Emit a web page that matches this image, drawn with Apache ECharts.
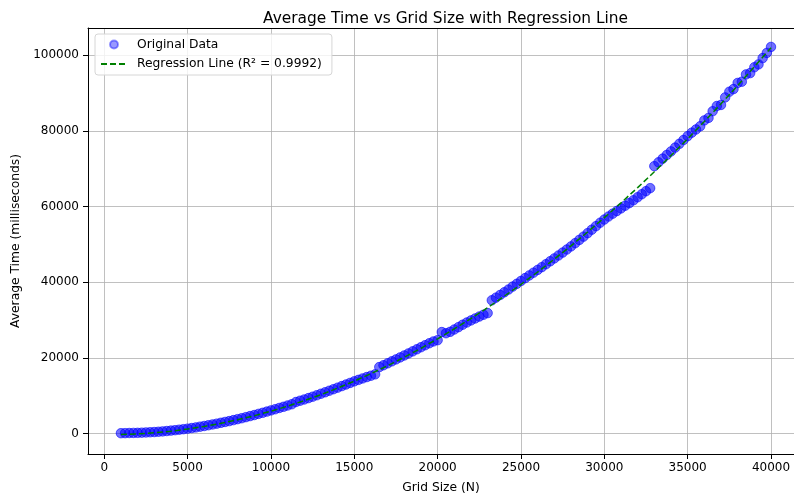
<!DOCTYPE html>
<html>
<head>
<meta charset="utf-8">
<script src="https://cdn.jsdelivr.net/npm/echarts@6/dist/echarts.min.js"></script>
<style>
html,body{margin:0;padding:0;background:#fff;}
#c{width:794px;height:496px;}
</style>
</head>
<body>
<div id="c"></div>
<script>
const gridSizes = [
1000,1250,1500,1750,2000,2250,2500,2750,3000,3250,3500,3750,4000,4250,4500,4750,
5000,5250,5500,5750,6000,6250,6500,6750,7000,7250,7500,7750,8000,8250,8500,8750,
9000,9250,9500,9750,10000,10250,10500,10750,11000,11250,11500,11750,12000,12250,12500,12750,
13000,13250,13500,13750,14000,14250,14500,14750,15000,15250,15500,15750,16000,16250,16500,16750,
17000,17250,17500,17750,18000,18250,18500,18750,19000,19250,19500,19750,20000,20250,20500,20750,
21000,21250,21500,21750,22000,22250,22500,22750,23000,23250,23500,23750,24000,24250,24500,24750,
25000,25250,25500,25750,26000,26250,26500,26750,27000,27250,27500,27750,28000,28250,28500,28750,
29000,29250,29500,29750,30000,30250,30500,30750,31000,31250,31500,31750,32000,32250,32500,32750,
33000,33250,33500,33750,34000,34250,34500,34750,35000,35250,35500,35750,36000,36250,36500,36750,
37000,37250,37500,37750,38000,38250,38500,38750,39000,39250,39500,39750,40000
];
const avgTimes = [
50,70,100,125,150,193,243,302,358,433,526,627,736,853,978,1112,
1252,1411,1589,1775,1958,2160,2370,2577,2803,3027,3249,3509,3767,4013,4298,4580,
4851,5160,5446,5761,6083,6384,6723,7040,7375,7708,8300,8639,8965,9331,9704,10086,
10485,10873,11279,11683,12094,12504,12922,13349,13762,14155,14535,14894,15250,15615,17538,18018,
18526,19053,19568,20091,20602,21141,21689,22234,22786,23318,23837,24315,24650,26794,26496,26856,
27473,28099,28733,29326,29875,30383,30900,31375,31807,35198,35897,36604,37316,38039,38820,39560,
40306,41061,41775,42497,43225,43963,44739,45513,46273,47043,47821,48627,49450,50302,51163,52031,
52955,53870,54800,55700,56550,57350,58100,58800,59500,60200,60900,61650,62450,63250,64050,64850,
70672,71686,72658,73638,74573,75569,76573,77585,78604,79532,80369,81214,82765,83425,85194,86570,
86853,88844,90344,91053,92672,92997,94931,95272,96819,97576,99241,100614,102196
];
const regSizes = [
1000,2000,3000,4000,5000,6000,7000,8000,9000,10000,11000,12000,13000,14000,15000,16000,17000,18000,19000,20000,
21000,22000,23000,24000,25000,26000,27000,28000,29000,30000,31000,32000,33000,34000,35000,36000,37000,38000,39000,40000
];
const regTimes = [
-300,-130,168,596,1152,1838,2653,3597,4671,5873,7205,8665,10255,11974,13822,15800,17906,20142,22506,25000,
27623,30375,33257,36266,39406,42675,46073,49600,53255,57041,60956,64999,69172,73473,77904,82465,87153,91972,96919,101996
];
const xTicks = [0,5000,10000,15000,20000,25000,30000,35000,40000];
const yTicks = [0,20000,40000,60000,80000,100000];

const chart = echarts.init(document.getElementById('c'), null, {renderer:'canvas'});
const FONT = 'DejaVu Sans';
const scatterData = gridSizes.map((n,i)=>[n, avgTimes[i]]);
const lineData = regSizes.map((n,i)=>[n, regTimes[i]]);
const plain = v => String(v);
const X_MIN = -975, X_MAX = 41380;

chart.setOption({
  animation:false,
  backgroundColor:'#fff',
  title:{
    text:'Average Time vs Grid Size with Regression Line',
    left:258, top:6,
    textStyle:{fontFamily:FONT,fontSize:15.4,fontWeight:'normal',color:'#000'}
  },
  legend:{
    orient:'vertical', left:95, top:34,
    padding:[3.5,10,4,5], itemGap:5.5,
    itemWidth:26, itemHeight:8,
    backgroundColor:'rgba(255,255,255,0.8)',
    borderColor:'#d6d6d6', borderWidth:1, borderRadius:3,
    textStyle:{fontFamily:FONT,fontSize:12.3,color:'#000',lineHeight:14,padding:[0,0,0,5]},
    data:[
      {name:'Original Data', icon:'circle', itemStyle:{color:'rgba(0,0,255,0.5)', borderColor:'rgba(0,0,255,0.5)'}},
      {name:'Regression Line (R² = 0.9992)', itemStyle:{opacity:0}}
    ]
  },
  grid:{left:88, top:28, right:0, bottom:42, containLabel:false, outerBoundsMode:'none'},
  xAxis:[{
    type:'value', min:X_MIN, max:X_MAX,
    name:'Grid Size (N)', nameLocation:'middle', nameGap:28,
    nameTextStyle:{fontFamily:FONT,fontSize:12.3,color:'#000'},
    axisLine:{show:true,onZero:false,lineStyle:{color:'#000',width:1}},
    axisTick:{show:true,length:5,lineStyle:{color:'#000'},customValues:xTicks},
    axisLabel:{fontFamily:FONT,fontSize:12,color:'#000',margin:8,customValues:xTicks,formatter:plain},
    splitLine:{show:true,lineStyle:{color:'#b0b0b0',width:0.8}}
  },{
    type:'value', min:X_MIN, max:X_MAX, position:'top',
    axisLine:{show:true,onZero:false,lineStyle:{color:'#000',width:1}},
    axisTick:{show:false}, axisLabel:{show:false}, splitLine:{show:false}
  }],
  yAxis:{
    type:'value', min:-5450, max:107200,
    name:'Average Time (milliseconds)', nameLocation:'middle', nameGap:57, nameRotate:90,
    nameTextStyle:{fontFamily:FONT,fontSize:12.3,color:'#000'},
    axisLine:{show:true,onZero:false,lineStyle:{color:'#000',width:1}},
    axisTick:{show:true,length:5,lineStyle:{color:'#000'},customValues:yTicks},
    axisLabel:{fontFamily:FONT,fontSize:12,color:'#000',margin:9,customValues:yTicks,formatter:plain},
    splitLine:{show:true,lineStyle:{color:'#b0b0b0',width:0.8}}
  },
  series:[
    {
      name:'Original Data', type:'scatter', data:scatterData, xAxisIndex:0,
      symbol:'circle', symbolSize:9.5,
      itemStyle:{color:'rgba(0,0,255,0.7)', borderColor:'rgba(0,0,255,0.75)', borderWidth:1},
      z:2
    },
    {
      name:'Regression Line (R² = 0.9992)', type:'line', data:lineData, xAxisIndex:0,
      showSymbol:false, symbol:'none', smooth:false,
      lineStyle:{color:'#008000', width:1.5, type:[6,3]},
      itemStyle:{color:'#008000'},
      z:3
    }
  ]
});
</script>
</body>
</html>
